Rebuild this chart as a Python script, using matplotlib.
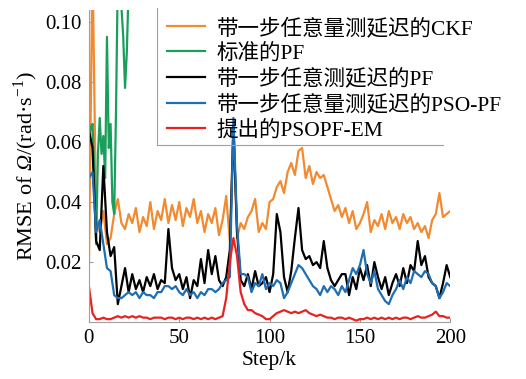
import numpy as np
import matplotlib
matplotlib.use("Agg")
import matplotlib.pyplot as plt
from matplotlib.lines import Line2D

plt.rcParams['font.family'] = ['Liberation Serif', 'Noto Sans CJK SC']
plt.rcParams['mathtext.fontset'] = 'custom'
plt.rcParams['mathtext.rm'] = 'Liberation Serif'
plt.rcParams['mathtext.cal'] = 'Liberation Serif:italic'
plt.rcParams['axes.unicode_minus'] = False

# 数据 (每隔2步读取)
steps = np.arange(0, 201, 2)

ckf = [0.018, 0.120, 0.034, 0.030, 0.037, 0.026, 0.028, 0.036, 0.041, 0.033,
       0.031, 0.036, 0.033, 0.038, 0.030, 0.035, 0.032, 0.040, 0.031, 0.037,
       0.034, 0.041, 0.033, 0.039, 0.034, 0.040, 0.032, 0.038, 0.035, 0.041,
       0.033, 0.037, 0.030, 0.036, 0.033, 0.038, 0.029, 0.034, 0.042, 0.027,
       0.065, 0.028, 0.033, 0.031, 0.035, 0.037, 0.041, 0.030, 0.033, 0.031,
       0.040, 0.041, 0.045, 0.047, 0.043, 0.050, 0.053, 0.049, 0.057, 0.058,
       0.048, 0.052, 0.046, 0.050, 0.048, 0.049, 0.045, 0.041, 0.037, 0.039,
       0.035, 0.038, 0.033, 0.037, 0.031, 0.033, 0.036, 0.040, 0.030, 0.034,
       0.032, 0.036, 0.031, 0.037, 0.033, 0.035, 0.031, 0.036, 0.033, 0.035,
       0.031, 0.033, 0.030, 0.032, 0.028, 0.034, 0.036, 0.043, 0.035, 0.036,
       0.037]

pf_delay = [0.064, 0.058, 0.027, 0.024, 0.052, 0.030, 0.022, 0.025, 0.006, 0.012,
            0.018, 0.010, 0.016, 0.011, 0.014, 0.010, 0.015, 0.012, 0.016, 0.011,
            0.014, 0.013, 0.031, 0.018, 0.014, 0.016, 0.011, 0.015, 0.008, 0.014,
            0.012, 0.021, 0.013, 0.024, 0.016, 0.022, 0.014, 0.012, 0.015, 0.024,
            0.065, 0.030, 0.014, 0.012, 0.016, 0.011, 0.017, 0.012, 0.013, 0.015,
            0.010, 0.016, 0.036, 0.030, 0.015, 0.010, 0.017, 0.028, 0.038, 0.024,
            0.021, 0.022, 0.019, 0.020, 0.018, 0.027, 0.018, 0.014, 0.012, 0.014,
            0.016, 0.016, 0.009, 0.015, 0.011, 0.018, 0.014, 0.019, 0.012, 0.020,
            0.015, 0.011, 0.015, 0.009, 0.013, 0.016, 0.012, 0.018, 0.013, 0.019,
            0.017, 0.027, 0.019, 0.022, 0.015, 0.013, 0.012, 0.008, 0.013, 0.019,
            0.015]

pso_pf = [0.048, 0.050, 0.030, 0.034, 0.026, 0.018, 0.017, 0.009, 0.008, 0.008,
          0.009, 0.010, 0.009, 0.010, 0.008, 0.010, 0.009, 0.009, 0.008, 0.010,
          0.010, 0.012, 0.012, 0.011, 0.012, 0.010, 0.009, 0.011, 0.009, 0.010,
          0.008, 0.010, 0.009, 0.011, 0.011, 0.010, 0.011, 0.013, 0.014, 0.015,
          0.068, 0.032, 0.016, 0.016, 0.015, 0.010, 0.013, 0.012, 0.016, 0.011,
          0.013, 0.012, 0.014, 0.013, 0.008, 0.010, 0.013, 0.016, 0.019, 0.018,
          0.016, 0.014, 0.012, 0.011, 0.009, 0.012, 0.010, 0.012, 0.011, 0.009,
          0.012, 0.010, 0.014, 0.018, 0.016, 0.019, 0.024, 0.016, 0.013, 0.017,
          0.011, 0.009, 0.007, 0.006, 0.009, 0.011, 0.014, 0.011, 0.015, 0.013,
          0.017, 0.016, 0.015, 0.017, 0.016, 0.013, 0.012, 0.008, 0.010, 0.013,
          0.012]

psopf_em = [0.012, 0.003, 0.001, 0.001, 0.0015, 0.001, 0.001, 0.0015, 0.002, 0.0015,
            0.002, 0.0015, 0.002, 0.0015, 0.002, 0.0015, 0.0015, 0.001, 0.0015, 0.0015,
            0.0015, 0.001, 0.0015, 0.0015, 0.001, 0.0015, 0.001, 0.0015, 0.0015, 0.001,
            0.0015, 0.001, 0.0015, 0.001, 0.0015, 0.001, 0.0015, 0.002, 0.008, 0.020,
            0.028, 0.022, 0.010, 0.006, 0.004, 0.004, 0.003, 0.0025, 0.002, 0.001,
            0.001, 0.002, 0.003, 0.0035, 0.004, 0.0035, 0.003, 0.0035, 0.003, 0.0035,
            0.004, 0.003, 0.0025, 0.002, 0.0025, 0.002, 0.0015, 0.0015, 0.001, 0.0015,
            0.0015, 0.001, 0.0015, 0.001, 0.0005, 0.001, 0.001, 0.0015, 0.001, 0.0015,
            0.001, 0.0015, 0.001, 0.0015, 0.001, 0.0015, 0.001, 0.0015, 0.0015, 0.001,
            0.0015, 0.002, 0.0015, 0.0015, 0.002, 0.0025, 0.0035, 0.002, 0.002, 0.0015,
            0.0015]

# 标准PF 只在前面几步可见, 之后超出坐标范围
pf_steps = np.arange(0, 26)
pf_std = [0.066, 0.064, 0.066, 0.050, 0.026, 0.056, 0.068, 0.056, 0.062, 0.048,
          0.095, 0.058, 0.066, 0.040, 0.036, 0.070, 0.115, 0.110, 0.105, 0.095,
          0.078, 0.090, 0.112, 0.125, 0.130, 0.130]

labels = ["带一步任意量测延迟的CKF", "标准的PF", "带一步任意测延迟的PF",
          "带一步任意量测延迟的PSO-PF", "提出的PSOPF-EM"]

fig = plt.figure(figsize=(5.26, 3.79), dpi=100)
ax = fig.add_axes([0.169, 0.150, 0.687, 0.824])

lw = 1.6
ax.plot(steps, ckf, color="#F28A30", lw=lw, label=labels[0])
ax.plot(pf_steps, pf_std, color="#1A9E5C", lw=lw, label=labels[1])
ax.plot(steps, pf_delay, color="black", lw=lw, label=labels[2])
ax.plot(steps, pso_pf, color="#1F6DB2", lw=lw, label=labels[3])
ax.plot(steps, psopf_em, color="#E8231F", lw=lw, label=labels[4])

ax.set_xlim(0, 200)
ax.set_ylim(0, 0.104)
ax.set_xticks([0, 50, 100, 150, 200])
ax.set_yticks([0.02, 0.04, 0.06, 0.08, 0.10])
ax.set_yticklabels(["0.02", "0.04", "0.06", "0.08", "0.10"])
ax.tick_params(labelsize=15, length=3, direction="in", color="#999999", pad=5)

for s in ["top", "right"]:
    ax.spines[s].set_visible(False)
for s in ["left", "bottom"]:
    ax.spines[s].set_color("#a0a0a0")
    ax.spines[s].set_linewidth(0.8)

ax.set_xlabel("Step/k", fontsize=15.5, labelpad=2)
ax.set_ylabel("RMSE of $\\mathcal{Ω}$/(rad·s$^{-1}$)", fontsize=16, labelpad=4)

leg = ax.legend(loc="upper left", bbox_to_anchor=(167 / 526, 1 - 18 / 379),
                bbox_transform=fig.transFigure, frameon=False,
                fontsize=15.5, handlelength=1.75, handletextpad=0.55, labelspacing=0.22,
                borderpad=0, borderaxespad=0)

# 图例框只露出左边和下边
box_l, box_r, box_b = 157 / 526, 443 / 526, 1 - 145 / 379
fig.add_artist(Line2D([box_l, box_l], [box_b, 1 - 8 / 379], transform=fig.transFigure,
                      color="#a0a0a0", lw=0.8))
fig.add_artist(Line2D([box_l, box_r], [box_b, box_b], transform=fig.transFigure,
                      color="#a0a0a0", lw=0.8))

fig.savefig("out.png", dpi=100)
